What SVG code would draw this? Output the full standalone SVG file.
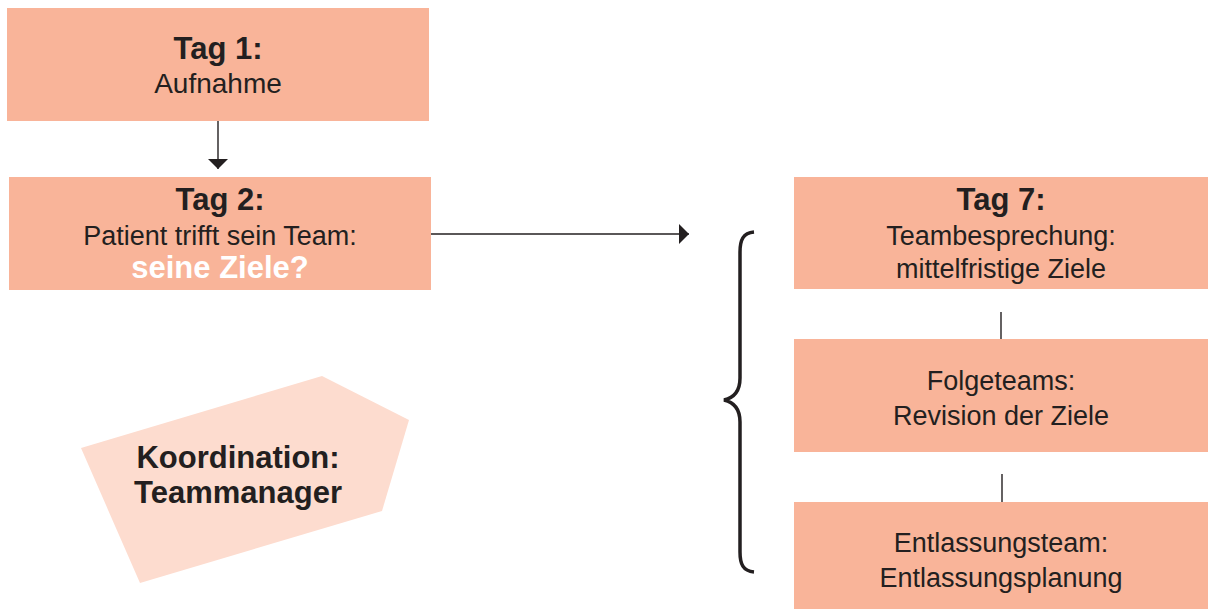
<svg xmlns="http://www.w3.org/2000/svg" width="1208" height="609" viewBox="0 0 1208 609">
<defs>
<style>
.box{fill:#F9B499}
.pent{fill:#FDDCCF}
.t{font-family:"Liberation Sans",Arial,sans-serif;font-size:27px;fill:#231F20;text-anchor:middle}
.b{font-weight:bold;font-size:31px}
.w{fill:#FFFFFF}
.ln{stroke:#231F20;stroke-width:1.4;fill:none}
</style>
<marker id="ah" viewBox="0 0 10 20" refX="10" refY="10" markerWidth="10" markerHeight="20" markerUnits="userSpaceOnUse" orient="auto">
<path d="M0,0 L10,10 L0,20 Z" fill="#231F20"/>
</marker>
</defs>
<rect width="1208" height="609" fill="#FFFFFF"/>
<g id="tag1">
<rect class="box" x="7" y="8" width="422" height="113"/>
<text class="t b" x="218" y="59">Tag 1:</text>
<text class="t" x="218" y="93" style="font-size:28px">Aufnahme</text>
</g>
<g id="tag2">
<rect class="box" x="9" y="177" width="422" height="113"/>
<text class="t b" x="220" y="210">Tag 2:</text>
<text class="t" x="220" y="245">Patient trifft sein Team:</text>
<text class="t b w" x="220" y="278">seine Ziele?</text>
</g>
<g id="koordination">
<polygon class="pent" points="81,448 322,376 409,420 382,511 140,583"/>
<text class="t b" x="238" y="468">Koordination:</text>
<text class="t b" x="238" y="503">Teammanager</text>
</g>
<g id="tag7">
<rect class="box" x="794" y="177" width="414" height="112"/>
<text class="t b" x="1001" y="210">Tag 7:</text>
<text class="t" x="1001" y="245">Teambesprechung:</text>
<text class="t" x="1001" y="278">mittelfristige Ziele</text>
</g>
<g id="folgeteams">
<rect class="box" x="794" y="339" width="414" height="113"/>
<text class="t" x="1001" y="390">Folgeteams:</text>
<text class="t" x="1001" y="425">Revision der Ziele</text>
</g>
<g id="entlassung">
<rect class="box" x="794" y="502" width="414" height="107"/>
<text class="t" x="1001" y="552">Entlassungsteam:</text>
<text class="t" x="1001" y="587">Entlassungsplanung</text>
</g>
<g id="brace">
<path d="M754,232 C743,233 740,240 740,252 L740,378 C740,392 733,398 724,400 C733,402 740,408 740,422 L740,552 C740,564 743,571 754,572" fill="none" stroke="#231F20" stroke-width="3.5"/>
</g>
<g id="connectors">
<line class="ln" x1="218" y1="121" x2="218" y2="169" marker-end="url(#ah)"/>
<line class="ln" x1="431" y1="234" x2="689" y2="234" marker-end="url(#ah)"/>
<line class="ln" x1="1001" y1="312" x2="1001" y2="339"/>
<line class="ln" x1="1002" y1="474" x2="1002" y2="502"/>
</g>
</svg>
